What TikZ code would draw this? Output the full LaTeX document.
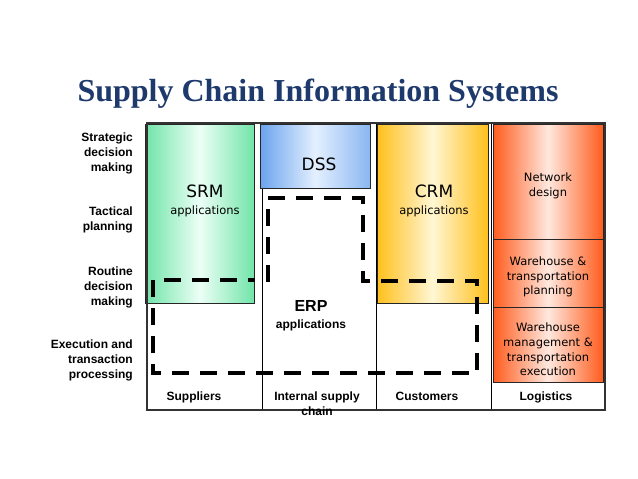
\documentclass[tikz,border=0pt]{standalone}
\usepackage{fontspec}
\setmainfont{Liberation Serif}
\newfontfamily\arialfont{Liberation Sans}
\newfontfamily\verdfont{DejaVu Sans}
\usepackage{xcolor}
\usetikzlibrary{positioning,calc}

\definecolor{titleblue}{RGB}{30,57,108}
\definecolor{srmedge}{RGB}{112,228,168}
\definecolor{srmmid}{RGB}{236,255,246}
\definecolor{dssedge}{RGB}{108,164,238}
\definecolor{dssmid}{RGB}{228,240,255}
\definecolor{crmedge}{RGB}{255,192,28}
\definecolor{crmmid}{RGB}{255,246,212}
\definecolor{logedge}{RGB}{255,92,30}
\definecolor{logmid}{RGB}{255,232,222}

\begin{document}
\begin{tikzpicture}[x=1pt,y=-1pt,
	rowlab/.style={anchor=east,align=right,inner sep=0pt,font=\arialfont\bfseries\fontsize{12}{15}\selectfont},
	collab/.style={anchor=north,align=center,inner sep=0pt,font=\arialfont\bfseries\fontsize{12}{15}\selectfont},
	bigtxt/.style={inner sep=0pt,font=\verdfont\fontsize{17}{20}\selectfont},
	smalltxt/.style={inner sep=0pt,align=center,font=\verdfont\fontsize{11.5}{14.6}\selectfont},
	appbox/.style={draw=black!85,line width=0.6pt}]
		
		\useasboundingbox (0,0) rectangle (638,479);
		
		\node[anchor=base,inner sep=0pt,text=titleblue,font=\bfseries\fontsize{32}{37}\selectfont] (title) at (318,101) {Supply Chain Information Systems};
		
		\draw[black,line width=0.8pt] (262.5,123) -- (262.5,410);
		\draw[black,line width=0.8pt] (376.5,123) -- (376.5,410);
		\draw[black,line width=0.8pt] (491.5,123) -- (491.5,410);
		
		\shade[appbox,left color=srmedge,right color=srmedge,middle color=srmmid] (145,124) rectangle (254.5,303);
		\shade[appbox,left color=dssedge,right color=dssedge!80,middle color=dssmid] (260.5,124) rectangle (370,188);
		\shade[appbox,left color=crmedge,right color=crmedge,middle color=crmmid] (377,124) rectangle (488,303);
		
		\shade[appbox,left color=logedge,right color=logedge,middle color=logmid] (493,124) rectangle (603,239);
		\shade[appbox,left color=logedge,right color=logedge,middle color=logmid] (493,239) rectangle (603,307);
		\shade[appbox,left color=logedge,right color=logedge,middle color=logmid] (493,307) rectangle (603,382);
		
		\draw[black!80,line width=1.6pt] (147,123) rectangle (605,410);
		
		\draw[black,line width=4pt,dash pattern=on 17pt off 11pt] (268,282) -- (268,198) -- (363,198) -- (363,281) -- (477,281) -- (477,373) -- (153,373) -- (153,280) -- (255,280);
		
		\node[rowlab] (strat) at (133,153) {Strategic\\decision\\making};
		\node[rowlab] (tact) at (133,220) {Tactical\\planning};
		\node[rowlab] (routine) at (133,287) {Routine\\decision\\making};
		\node[rowlab] (exec) at (133,360) {Execution and\\transaction\\processing};
		
		\node[collab] (suppl) at (194,392) {Suppliers};
		\node[collab] (internal) at (317,392) {Internal supply\\chain};
		\node[collab] (cust) at (427,392) {Customers};
		\node[collab] (logist) at (546,392) {Logistics};
		
		\node[bigtxt] (srm) at (205,191) {SRM};
		\node[smalltxt] (srmapp) at (205,211) {applications};
		\node[bigtxt] (dss) at (319,164) {DSS};
		\node[bigtxt] (crm) at (434,191) {CRM};
		\node[smalltxt] (crmapp) at (434,211) {applications};
		
		\node[inner sep=0pt,font=\arialfont\bfseries\fontsize{16}{19}\selectfont] (erp) at (311,306) {ERP};
		\node[inner sep=0pt,font=\arialfont\bfseries\fontsize{12}{15}\selectfont] (erpapp) at (311,325) {applications};
		
		\node[smalltxt] (netdes) at (548,186) {Network\\design};
		\node[smalltxt] (whplan) at (548,277) {Warehouse \&\\transportation\\planning};
		\node[smalltxt] (whexec) at (548,349.5) {Warehouse\\management \&\\transportation\\execution};
		
	\end{tikzpicture}
\end{document}
